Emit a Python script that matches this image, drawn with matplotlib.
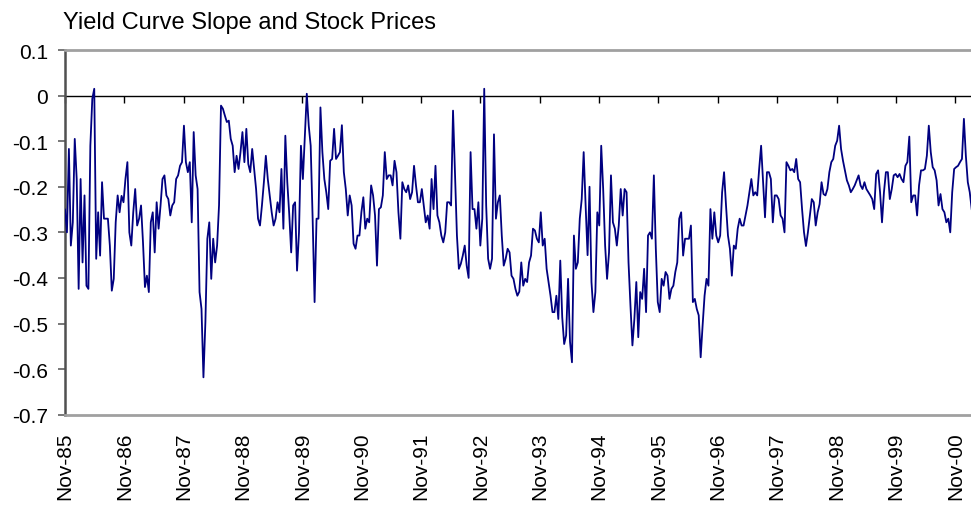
import pandas as pd
import matplotlib
matplotlib.use("Agg")
import matplotlib.pyplot as plt

plt.rcParams['font.family'] = ['Liberation Sans', 'DejaVu Sans']

title = "Yield Curve Slope and Stock Prices"
start_date = "1985-11-01"
step = "12D"

slope_1985_1989 = [
    -0.25, -0.30, -0.117, -0.329, -0.278, -0.095, -0.183, -0.424, -0.183, -0.366,
    -0.219, -0.417, -0.424, -0.110, -0.007, 0.015, -0.358, -0.256, -0.351, -0.190,
    -0.270, -0.270, -0.270, -0.329, -0.428, -0.402, -0.278, -0.219, -0.256, -0.220,
    -0.234, -0.183, -0.146, -0.300, -0.329, -0.256, -0.205, -0.285, -0.270, -0.241,
    -0.322, -0.420, -0.395, -0.431, -0.278, -0.256, -0.344, -0.234, -0.292, -0.241,
    -0.183, -0.175, -0.219, -0.227, -0.263, -0.241, -0.234, -0.183, -0.175, -0.154,
    -0.146, -0.066, -0.146, -0.168, -0.146, -0.278, -0.080, -0.175, -0.205, -0.431,
    -0.468, -0.618, -0.497, -0.314, -0.278, -0.402, -0.314, -0.366, -0.329, -0.240,
    -0.022, -0.029, -0.044, -0.058, -0.055, -0.095, -0.110, -0.168, -0.132, -0.161,
    -0.124, -0.080, -0.146, -0.073, -0.150, -0.168, -0.117, -0.161, -0.205, -0.270,
    -0.285, -0.241, -0.190, -0.132, -0.183, -0.219, -0.256, -0.285, -0.270, -0.234,
    -0.256, -0.161, -0.292, -0.088, -0.190,
]

slope_1989_1993 = [
    -0.260, -0.344, -0.241, -0.234, -0.384, -0.300, -0.110, -0.183, -0.088, 0.004,
    -0.066, -0.110, -0.270, -0.453, -0.270, -0.270, -0.026, -0.124, -0.183, -0.212,
    -0.249, -0.143, -0.139, -0.073, -0.139, -0.132, -0.124, -0.065, -0.168, -0.205,
    -0.263, -0.219, -0.241, -0.325, -0.336, -0.307, -0.307, -0.256, -0.223, -0.292,
    -0.270, -0.278, -0.197, -0.219, -0.263, -0.373, -0.249, -0.245, -0.219, -0.124,
    -0.183, -0.175, -0.175, -0.197, -0.143, -0.168, -0.256, -0.314, -0.190, -0.205,
    -0.212, -0.197, -0.227, -0.212, -0.154, -0.197, -0.234, -0.234, -0.205, -0.241,
    -0.278, -0.263, -0.292, -0.183, -0.249, -0.154, -0.263, -0.278, -0.307, -0.322,
    -0.300, -0.234, -0.234, -0.241, -0.033, -0.168, -0.307, -0.380, -0.369, -0.351,
    -0.329, -0.373, -0.400, -0.124, -0.249, -0.249, -0.292, -0.234, -0.329, -0.270,
    0.015, -0.241, -0.358, -0.380, -0.358, -0.085, -0.270, -0.234, -0.219, -0.307,
    -0.373, -0.358, -0.336, -0.344, -0.395, -0.402, -0.424, -0.439, -0.430,
]

slope_1993_1997 = [
    -0.366, -0.417, -0.402, -0.409, -0.366, -0.351, -0.292, -0.296, -0.314, -0.322,
    -0.256, -0.329, -0.314, -0.380, -0.409, -0.439, -0.475, -0.475, -0.439, -0.490,
    -0.362, -0.486, -0.545, -0.526, -0.402, -0.540, -0.585, -0.307, -0.380, -0.366,
    -0.270, -0.227, -0.124, -0.241, -0.350, -0.200, -0.409, -0.475, -0.431, -0.256,
    -0.285, -0.110, -0.205, -0.329, -0.402, -0.344, -0.175, -0.278, -0.292, -0.329,
    -0.285, -0.205, -0.263, -0.205, -0.212, -0.366, -0.461, -0.548, -0.490, -0.409,
    -0.530, -0.431, -0.446, -0.380, -0.475, -0.307, -0.300, -0.314, -0.175, -0.336,
    -0.453, -0.475, -0.402, -0.417, -0.387, -0.395, -0.446, -0.424, -0.417, -0.387,
    -0.366, -0.270, -0.256, -0.351, -0.314, -0.314, -0.314, -0.285, -0.453, -0.446,
    -0.468, -0.482, -0.574, -0.504, -0.439, -0.402, -0.417, -0.249, -0.314, -0.256,
    -0.307, -0.322, -0.307, -0.212, -0.168, -0.241, -0.307, -0.336, -0.395, -0.329,
    -0.336, -0.292, -0.270, -0.285, -0.285, -0.263,
]

slope_1997_2001 = [
    -0.241, -0.212, -0.183, -0.219, -0.212, -0.219, -0.161, -0.110, -0.190, -0.267,
    -0.168, -0.168, -0.183, -0.278, -0.219, -0.219, -0.227, -0.263, -0.270, -0.300,
    -0.146, -0.154, -0.164, -0.161, -0.168, -0.139, -0.183, -0.190, -0.249, -0.300,
    -0.330, -0.300, -0.263, -0.227, -0.234, -0.285, -0.256, -0.238, -0.190, -0.216,
    -0.219, -0.205, -0.168, -0.146, -0.139, -0.110, -0.099, -0.066, -0.117, -0.143,
    -0.164, -0.186, -0.197, -0.212, -0.205, -0.197, -0.186, -0.175, -0.197, -0.205,
    -0.190, -0.205, -0.212, -0.219, -0.227, -0.249, -0.172, -0.164, -0.212, -0.278,
    -0.212, -0.168, -0.168, -0.227, -0.205, -0.175, -0.172, -0.179, -0.172, -0.183,
    -0.190, -0.154, -0.146, -0.090, -0.234, -0.219, -0.219, -0.263, -0.197, -0.164,
    -0.164, -0.161, -0.132, -0.066, -0.124, -0.157, -0.164, -0.186, -0.241, -0.216,
    -0.249, -0.256, -0.278, -0.270, -0.300, -0.212, -0.161, -0.157, -0.154, -0.146,
    -0.139, -0.051, -0.132, -0.190, -0.212, -0.249,
]

tick_labels = ["Nov-85", "Nov-86", "Nov-87", "Nov-88", "Nov-89", "Nov-90",
               "Nov-91", "Nov-92", "Nov-93", "Nov-94", "Nov-95", "Nov-96",
               "Nov-97", "Nov-98", "Nov-99", "Nov-00"]
tick_dates = ["1985-11-01", "1986-11-01", "1987-11-01", "1988-11-01",
              "1989-11-01", "1990-11-01", "1991-11-01", "1992-11-01",
              "1993-11-01", "1994-11-01", "1995-11-01", "1996-11-01",
              "1997-11-01", "1998-11-01", "1999-11-01", "2000-11-01"]
y_ticks = [0.1, 0.0, -0.1, -0.2, -0.3, -0.4, -0.5, -0.6, -0.7]
y_labels = ["0.1", "0", "-0.1", "-0.2", "-0.3", "-0.4", "-0.5", "-0.6", "-0.7"]

values = slope_1985_1989 + slope_1989_1993 + slope_1993_1997 + slope_1997_2001
dates = pd.date_range(start_date, periods=len(values), freq=step)
tdates = pd.to_datetime(tick_dates)

W, H = 971, 506
fig = plt.figure(figsize=(W / 100, H / 100), dpi=100)
ax = fig.add_axes([65 / W, (H - 415.7) / H, (971.7 - 65) / W, (415.7 - 51) / H])

ax.plot(dates, values, color='#000080', lw=1.3, zorder=3)
ax.set_xlim(dates[0], dates[-1])
ax.set_ylim(-0.7, 0.1)

# zero line with downward tick marks
ax.axhline(0, color='black', lw=1.0, zorder=2)
ax.plot(tdates, [0] * len(tdates), ls='none', marker=3, ms=5, mew=1.0,
        color='black', zorder=2, clip_on=False)

ax.set_xticks(tdates)
ax.set_xticklabels(tick_labels, rotation=90, fontsize=15)
ax.tick_params(axis='x', length=0, pad=12)

ax.set_yticks(y_ticks)
ax.set_yticklabels(y_labels, fontsize=15)
ax.tick_params(axis='y', direction='out', length=5, width=1.2, color='#606060', pad=7)

ax.spines['right'].set_visible(False)
ax.spines['top'].set_color('#a0a0a0')
ax.spines['top'].set_linewidth(2)
ax.spines['bottom'].set_color('#a0a0a0')
ax.spines['bottom'].set_linewidth(2)
ax.spines['left'].set_color('#505050')
ax.spines['left'].set_linewidth(1.8)

fig.text(63 / W, 1 - 29.5 / H, title, fontsize=17, ha='left', va='baseline')

fig.savefig("out.png", dpi=100)
